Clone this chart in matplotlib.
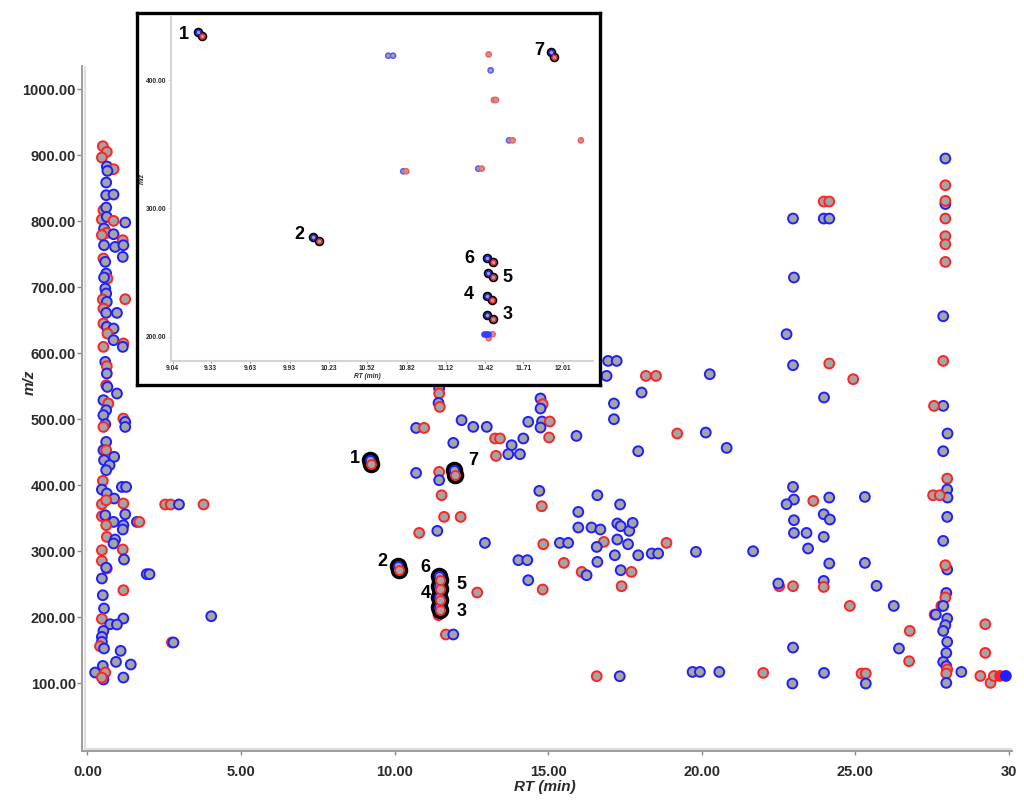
import matplotlib
matplotlib.use('Agg')
import matplotlib.pyplot as plt

FONT = ['Liberation Sans Narrow', 'Liberation Sans', 'DejaVu Sans']
plt.rcParams['font.family'] = FONT

# ---------------- data (RT in min, m/z, edge colour code) ----------------
left_strip = [
    (0.50, 913.6, 'R'), (0.63, 905, 'R'), (0.47, 896.5, 'R'), (0.63, 883, 'B'), (0.85, 878.8, 'R'),
    (0.65, 876.2, 'B'), (0.61, 858.6, 'B'), (0.61, 839.4, 'B'), (0.85, 840.4, 'B'), (0.52, 816.7, 'R'),
    (0.61, 820.7, 'B'), (0.47, 802.6, 'R'), (0.63, 806.5, 'B'), (0.85, 800.5, 'R'), (0.54, 788.9, 'B'),
    (0.63, 782.3, 'R'), (0.47, 778.8, 'R'), (0.85, 780.3, 'B'), (1.15, 771.2, 'R'), (1.23, 798, 'B'),
    (0.54, 763.6, 'B'), (0.90, 761, 'B'), (1.17, 763.6, 'B'), (1.15, 745.9, 'B'), (0.52, 743.5, 'R'),
    (0.58, 738.4, 'B'), (0.61, 720.7, 'B'), (0.65, 713.2, 'R'), (0.54, 714.7, 'B'), (0.58, 698, 'B'),
    (0.61, 690.4, 'B'), (0.50, 681.4, 'R'), (0.63, 677.8, 'B'), (1.23, 681.8, 'R'), (0.52, 667.7, 'R'),
    (0.61, 661.1, 'B'), (0.96, 661.1, 'B'), (0.52, 645, 'R'), (0.63, 639.9, 'B'), (0.85, 637.4, 'B'),
    (0.65, 629.8, 'R'), (0.85, 619.7, 'B'), (1.17, 614.7, 'R'), (1.15, 609.6, 'B'), (0.52, 609.6, 'R'),
    (0.58, 586.9, 'B'), (0.63, 580.3, 'R'), (0.63, 569.2, 'B'), (0.61, 551.5, 'R'), (0.65, 548.9, 'B'),
    (0.96, 538.9, 'B'), (0.52, 528.8, 'B'), (0.68, 523.8, 'R'), (0.61, 513.6, 'B'), (0.52, 506.1, 'B'),
    (0.58, 492.4, 'B'), (0.52, 488.3, 'R'), (1.17, 501, 'R'), (1.23, 495.9, 'B'), (1.23, 488.3, 'B'),
    (0.61, 465.6, 'B'), (0.52, 453, 'B'), (0.61, 453, 'R'), (0.87, 443, 'B'),
    (0.54, 437.9, 'B'), (0.72, 430.3, 'B'), (0.61, 422.7, 'B'), (0.50, 406.5, 'R'), (0.47, 393.4, 'B'),
    (0.63, 387.4, 'B'), (0.87, 379.8, 'B'), (0.47, 371.2, 'R'), (1.17, 372.3, 'R'), (1.12, 397.4, 'B'),
    (1.26, 397.4, 'B'), (0.61, 377.3, 'R'), (0.47, 353, 'R'), (0.58, 354.5, 'B'), (1.23, 356, 'B'),
    (0.85, 344.4, 'B'), (1.61, 344.4, 'B'), (1.69, 344.4, 'R'), (1.17, 339.4, 'B'), (0.61, 339.4, 'R'),
    (1.15, 332.9, 'B'), (0.63, 321.7, 'R'), (0.90, 317.7, 'B'), (0.85, 311.7, 'B'), (0.47, 301.5, 'R'),
    (1.15, 302.6, 'R'), (1.19, 287.4, 'B'), (0.47, 285.3, 'R'), (0.63, 273.8, 'R'), (0.61, 275, 'B'),
    (0.47, 258.6, 'B'), (1.93, 265.2, 'B'), (2.02, 265.2, 'B'), (1.17, 240.9, 'R'), (0.50, 233.3, 'B'),
    (0.54, 213.2, 'B'), (0.47, 197.4, 'R'), (1.17, 198, 'B'), (0.74, 189.4, 'B'), (0.96, 188.9, 'B'),
    (0.52, 179.2, 'B'), (0.47, 170.2, 'B'), (0.47, 162.6, 'B'), (0.41, 156.1, 'R'), (0.54, 152.6, 'B'),
    (1.08, 149, 'B'), (0.93, 132.3, 'B'), (1.41, 128.3, 'B'), (0.50, 126.2, 'B'), (0.25, 116.2, 'B'),
    (0.58, 116.2, 'R'), (0.52, 105.6, 'B'), (0.47, 108.6, 'R'), (1.17, 108.6, 'B'), (2.75, 161.7, 'R'),
    (2.80, 161.7, 'B'), (4.03, 201.5, 'B'), (2.53, 370.8, 'R'), (2.71, 370.8, 'R'), (2.98, 370.8, 'B'),
    (3.78, 370.8, 'R'),
]

middle = [
    (16.95, 588.3, 'B'), (17.23, 588.3, 'B'), (16.9, 565.6, 'B'), (18.18, 565.6, 'R'), (18.51, 565.6, 'R'),
    (18.04, 540.4, 'B'), (17.14, 523.8, 'B'), (17.14, 500, 'B'), (17.93, 451.5, 'B'),
    (11.45, 546.5, 'B'), (11.45, 538.9, 'R'), (11.43, 524.7, 'B'), (11.47, 518.6, 'R'), (10.70, 486.8, 'B'),
    (10.96, 486.8, 'R'), (12.18, 498.5, 'B'), (12.56, 488.4, 'B'), (13.0, 488.4, 'B'), (11.91, 464.1, 'B'),
    (13.27, 470.8, 'R'), (13.43, 470.8, 'R'), (13.81, 460.6, 'B'), (14.19, 470.8, 'B'), (13.7, 447, 'B'),
    (13.3, 444.4, 'R'), (14.08, 447, 'B'), (14.75, 531.4, 'B'), (14.82, 522.7, 'R'), (14.75, 516.2, 'B'),
    (14.35, 496, 'B'), (14.8, 496.5, 'B'), (15.05, 496.5, 'R'), (14.75, 487.4, 'B'), (15.03, 472.3, 'R'),
    (15.92, 474.7, 'B'),
    (10.70, 418.6, 'B'), (11.45, 420.2, 'R'), (11.45, 407.6, 'B'), (11.53, 384.8, 'R'), (14.71, 391.4, 'B'),
    (14.79, 368.2, 'R'), (16.6, 384.8, 'B'), (17.34, 370.8, 'B'), (11.61, 352, 'R'), (12.15, 352, 'R'),
    (10.8, 327.7, 'R'), (11.39, 330.8, 'B'), (12.94, 312.6, 'B'), (15.98, 359.5, 'B'), (15.98, 335.9, 'B'),
    (16.41, 335.9, 'B'), (16.7, 332.9, 'B'), (16.81, 314.1, 'R'), (16.58, 306.5, 'B'), (15.38, 312.6, 'B'),
    (15.65, 312.6, 'B'), (14.84, 310.6, 'R'), (14.03, 286.4, 'B'), (14.32, 286.4, 'B'), (15.51, 282.3, 'R'),
    (16.6, 283.8, 'B'), (14.35, 256, 'B'), (14.82, 242, 'R'), (16.09, 268.6, 'R'), (16.25, 263.6, 'B'),
    (17.25, 342, 'B'), (17.36, 337.9, 'B'), (17.64, 330.8, 'B'), (17.75, 342.9, 'B'), (17.25, 317.7, 'B'),
    (17.6, 310.6, 'B'), (17.17, 293.9, 'B'), (17.93, 293.9, 'B'), (18.37, 296.5, 'B'), (18.58, 296.5, 'B'),
    (17.36, 271.2, 'B'), (17.71, 268.6, 'R'), (17.39, 247, 'R'), (12.69, 237.4, 'R'), (11.67, 173.8, 'R'),
    (11.91, 173.8, 'B'), (11.43, 203, 'R'),
    (20.26, 568.2, 'B'), (19.2, 478.3, 'R'), (20.13, 479.8, 'B'), (20.81, 456.5, 'B'), (18.85, 312.6, 'R'),
    (19.81, 299, 'B'), (21.67, 300, 'B'), (20.57, 117.1, 'B'), (19.7, 117.1, 'B'), (19.94, 117.1, 'B'),
    (17.33, 110.6, 'B'), (16.58, 110.6, 'R'), (22.0, 115.6, 'R'),
]

right_side = [
    (22.97, 581.8, 'B'), (24.15, 584.4, 'R'), (23.98, 532.9, 'B'), (22.97, 397.4, 'B'), (23.0, 378.3, 'B'),
    (22.76, 371.2, 'B'), (23.63, 376.2, 'R'), (24.15, 381.3, 'B'), (23.0, 347, 'B'), (23.97, 356, 'B'),
    (24.17, 348, 'B'), (23.0, 327.7, 'B'), (23.41, 327.7, 'B'), (23.97, 321.7, 'B'), (23.46, 304.1, 'B'),
    (24.15, 281.4, 'B'), (22.52, 247, 'R'), (22.49, 251, 'B'), (22.97, 247, 'R'), (23.97, 255, 'B'),
    (23.97, 245.9, 'R'), (22.97, 154, 'B'), (22.95, 99.5, 'B'), (23.98, 115.6, 'B'),
    (22.97, 804, 'B'), (23.97, 829.8, 'R'), (24.15, 829.8, 'R'), (23.97, 804, 'B'), (24.15, 804, 'B'),
    (23.0, 714.7, 'B'), (22.76, 628.8, 'B'), (24.93, 560.6, 'R'),
    (25.31, 382.3, 'B'), (25.31, 282.3, 'B'), (25.69, 247.5, 'B'), (24.82, 217.1, 'R'), (26.25, 217.1, 'B'),
    (26.77, 179.2, 'R'), (26.42, 152.6, 'B'), (26.75, 133.3, 'R'), (25.2, 114.7, 'R'), (25.34, 114.7, 'R'),
    (25.34, 99.5, 'B'),
    (27.93, 895, 'B'), (27.93, 826, 'B'), (27.93, 854.5, 'R'), (27.93, 830.8, 'R'), (27.93, 804, 'R'),
    (27.93, 777.3, 'R'), (27.93, 765, 'R'), (27.93, 738.3, 'R'), (27.86, 656, 'B'), (27.86, 588.3, 'R'),
    (27.86, 520.2, 'B'), (27.56, 520.2, 'R'), (28.0, 478.3, 'B'), (27.86, 451.5, 'B'),
    (27.99, 410, 'R'), (27.99, 393.5, 'B'), (28.0, 381.3, 'B'), (27.53, 384.8, 'R'), (27.75, 384.8, 'R'),
    (27.99, 352, 'B'), (27.86, 315.6, 'B'), (27.99, 272.3, 'B'), (27.93, 278.8, 'R'), (27.96, 236.8, 'B'),
    (27.93, 229.8, 'R'), (27.8, 217.1, 'R'), (27.86, 217.1, 'B'), (27.58, 204, 'R'), (27.62, 204, 'B'),
    (27.99, 198, 'B'), (27.93, 187.9, 'B'), (27.86, 179.2, 'B'), (27.99, 162.6, 'B'), (27.96, 145.9, 'B'),
    (27.86, 132.3, 'B'), (27.96, 125.8, 'B'), (27.99, 120.8, 'R'), (27.96, 114.7, 'R'), (27.96, 100.5, 'B'),
    (28.45, 117.1, 'B'), (29.07, 111, 'R'), (29.4, 100.5, 'R'), (29.51, 111, 'R'), (29.23, 189.4, 'R'),
    (29.23, 145.9, 'R'),
]

# solid (filled) markers at the far right end
solid_rt = [29.71, 29.90]
solid_mz = [111, 111]
solid_col = ['R', 'B']

# labelled features 1-7 in main plot (blue / red replicate)
lab_names = ['1', '2', '3', '4', '5', '6', '7']
lab_b_rt = [9.20, 10.10, 11.43, 11.43, 11.43, 11.43, 11.92]
lab_b_mz = [438, 277, 216, 231, 247, 262, 423]
lab_r_rt = [9.24, 10.14, 11.47, 11.47, 11.47, 11.47, 11.96]
lab_r_mz = [432, 271, 211, 226, 242, 257, 416]
lab_txt_rt = [8.71, 9.59, 12.19, 11.02, 12.19, 10.99, 12.55]
lab_txt_mz = [440.9, 284.8, 209.1, 236.4, 250.0, 275.8, 437.9]

# inset (zoom of 9-12.2 min)
ins_pts = [
    (10.681, 419, 'B'), (10.717, 419, 'B'), (11.445, 420, 'R'), (11.46, 407.6, 'B'), (11.485, 384.5, 'R'),
    (11.50, 384.5, 'R'), (11.60, 353, 'B'), (11.628, 353, 'R'), (12.147, 353, 'R'), (10.795, 328.9, 'B'),
    (10.818, 328.9, 'R'), (11.366, 331, 'B'), (11.392, 331, 'R'), (11.475, 201.9, 'R'), (11.445, 198.8, 'R'),
]
ins_solid_rt = [11.41, 11.425, 11.44]
ins_solid_mz = [201.9, 201.9, 201.9]
ins_b_rt = [9.235, 10.11, 11.433, 11.43, 11.437, 11.43, 11.917]
ins_b_mz = [437.7, 277.5, 216.7, 231.7, 249.4, 261.6, 421.7]
ins_r_rt = [9.261, 10.153, 11.475, 11.47, 11.48, 11.475, 11.944]
ins_r_mz = [434.4, 274.4, 213.6, 228.6, 246.3, 258.5, 418.2]
ins_txt_rt = [9.126, 10.003, 11.586, 11.297, 11.586, 11.297, 11.83]
ins_txt_mz = [435.9, 279.3, 217.5, 232.5, 246.5, 261.1, 422.9]

main_yticks = [100, 200, 300, 400, 500, 600, 700, 800, 900, 1000]
main_xticks = [0, 5, 10, 15, 20, 25, 30]
main_xticklabels = ['0.00', '5.00', '10.00', '15.00', '20.00', '25.00', '30']
ins_xticks = [9.04, 9.33, 9.63, 9.93, 10.23, 10.52, 10.82, 11.12, 11.42, 11.71, 12.01]
ins_yticks = [200, 300, 400]

# ---------------- style ----------------
GRAY = '#a4a4a4'
EDGE = {'B': '#1f1fff', 'R': '#ff2424'}
EDGE_LIGHT = {'B': '#5a5aff', 'R': '#ff5a5a'}
TXT = '#2a2a2a'

fig = plt.figure(figsize=(10.24, 8.06), dpi=100)
fig.patch.set_facecolor('white')

ax = fig.add_axes([0.080, 0.068, 0.908, 0.850])
ax.set_xlim(-0.18, 30.09)
ax.set_ylim(-3, 1035)

all_pts = left_strip + middle + right_side
rt = [p[0] for p in all_pts]
mz = [p[1] for p in all_pts]
ec = [EDGE[p[2]] for p in all_pts]
ax.scatter(rt, mz, s=50, facecolors=GRAY, edgecolors=ec, linewidths=1.4, zorder=3)
ax.scatter(solid_rt, solid_mz, s=50, facecolors=[EDGE[c] for c in solid_col],
           edgecolors=[EDGE[c] for c in solid_col], linewidths=1.4, zorder=3)

# labelled features: thick black rings
ax.scatter(lab_b_rt + lab_r_rt, lab_b_mz + lab_r_mz, s=100, facecolors=GRAY,
           edgecolors='black', linewidths=2.6, zorder=4)
ax.scatter(lab_b_rt, lab_b_mz, s=42, facecolors=GRAY, edgecolors=EDGE['B'], linewidths=1.3, zorder=5)
ax.scatter(lab_r_rt, lab_r_mz, s=42, facecolors=GRAY, edgecolors=EDGE['R'], linewidths=1.3, zorder=5)
for n, x, y in zip(lab_names, lab_txt_rt, lab_txt_mz):
    ax.text(x, y, n, fontsize=13, fontweight='bold', family=['Liberation Sans', 'DejaVu Sans'],
            ha='center', va='center', color='black', zorder=6)

for side in ['top', 'right']:
    ax.spines[side].set_visible(False)
for side in ['left', 'bottom']:
    ax.spines[side].set_color('#9c9c9c')
    ax.spines[side].set_linewidth(1.4)
ax.plot([0.0028, 0.0028], [0.003, 1], transform=ax.transAxes, color='#dedede', lw=1.6, zorder=1)
ax.plot([0.003, 1], [0.0035, 0.0035], transform=ax.transAxes, color='#dedede', lw=1.6, zorder=1)

ax.set_yticks(main_yticks)
ax.set_yticklabels([f'{v:.2f}' for v in main_yticks])
ax.set_xticks(main_xticks)
ax.set_xticklabels(main_xticklabels)
ax.tick_params(axis='y', length=3.5, width=1, color='#8a8a8a', pad=0.8, labelsize=10.5, labelcolor=TXT)
ax.tick_params(axis='x', length=3, width=1, color='#8a8a8a', pad=7, labelsize=10.5, labelcolor=TXT)
for lbl in ax.get_xticklabels() + ax.get_yticklabels():
    lbl.set_fontweight('bold')

fig.text(0.0293, 0.526, 'm/z', rotation=90, fontsize=11, fontweight='bold', style='italic',
         ha='center', va='center', color=TXT)
fig.text(0.532, 0.0236, 'RT (min)', fontsize=11, fontweight='bold', style='italic',
         ha='center', va='center', color=TXT)

# ---------------- inset ----------------
box = fig.add_axes([0.1335, 0.5223, 0.4525, 0.4612], zorder=5)
box.set_facecolor('white')
box.set_xticks([])
box.set_yticks([])
for s in box.spines.values():
    s.set_color('black')
    s.set_linewidth(2.4)

axi = fig.add_axes([0.1667, 0.5525, 0.412, 0.4268], zorder=6)
axi.set_facecolor('none')
axi.set_xlim(9.025, 12.236)
axi.set_ylim(181.3, 449.4)
for side in ['top', 'right']:
    axi.spines[side].set_visible(False)
for side in ['left', 'bottom']:
    axi.spines[side].set_color('#d4d4d4')
    axi.spines[side].set_linewidth(1.5)

ipx = [p[0] for p in ins_pts]
ipy = [p[1] for p in ins_pts]
iec = [EDGE_LIGHT[p[2]] for p in ins_pts]
axi.scatter(ipx, ipy, s=14, facecolors=GRAY, edgecolors=iec, linewidths=1.1, zorder=3)
axi.scatter(ins_solid_rt, ins_solid_mz, s=14, facecolors='#3a3aff', edgecolors='#3a3aff',
            linewidths=1.0, zorder=3)
axi.scatter(ins_b_rt + ins_r_rt, ins_b_mz + ins_r_mz, s=30, facecolors=GRAY, edgecolors='black',
            linewidths=1.4, zorder=4)
axi.scatter(ins_b_rt, ins_b_mz, s=12, facecolors=GRAY, edgecolors=EDGE['B'], linewidths=1.0, zorder=5)
axi.scatter(ins_r_rt, ins_r_mz, s=12, facecolors=GRAY, edgecolors=EDGE['R'], linewidths=1.0, zorder=5)
for n, x, y in zip(lab_names, ins_txt_rt, ins_txt_mz):
    axi.text(x, y, n, fontsize=13, fontweight='bold', family=['Liberation Sans', 'DejaVu Sans'],
             ha='center', va='center', color='black', zorder=6)

axi.set_xticks(ins_xticks)
axi.set_xticklabels([f'{v:.2f}' for v in ins_xticks])
axi.set_yticks(ins_yticks)
axi.set_yticklabels([f'{v:.2f}' for v in ins_yticks])
axi.tick_params(axis='both', length=1.5, width=0.6, color='#888888', pad=1.5, labelsize=4.8,
                labelcolor=TXT)
for lbl in axi.get_xticklabels() + axi.get_yticklabels():
    lbl.set_fontweight('bold')
axi.text(-0.066, 0.53, 'm/z', transform=axi.transAxes, rotation=90, fontsize=4.8,
         fontweight='bold', style='italic', ha='center', va='center', color=TXT)
axi.text(0.465, -0.047, 'RT (min)', transform=axi.transAxes, fontsize=4.8,
         fontweight='bold', style='italic', ha='center', va='center', color=TXT)

fig.savefig('out.png', dpi=100, facecolor='white')
